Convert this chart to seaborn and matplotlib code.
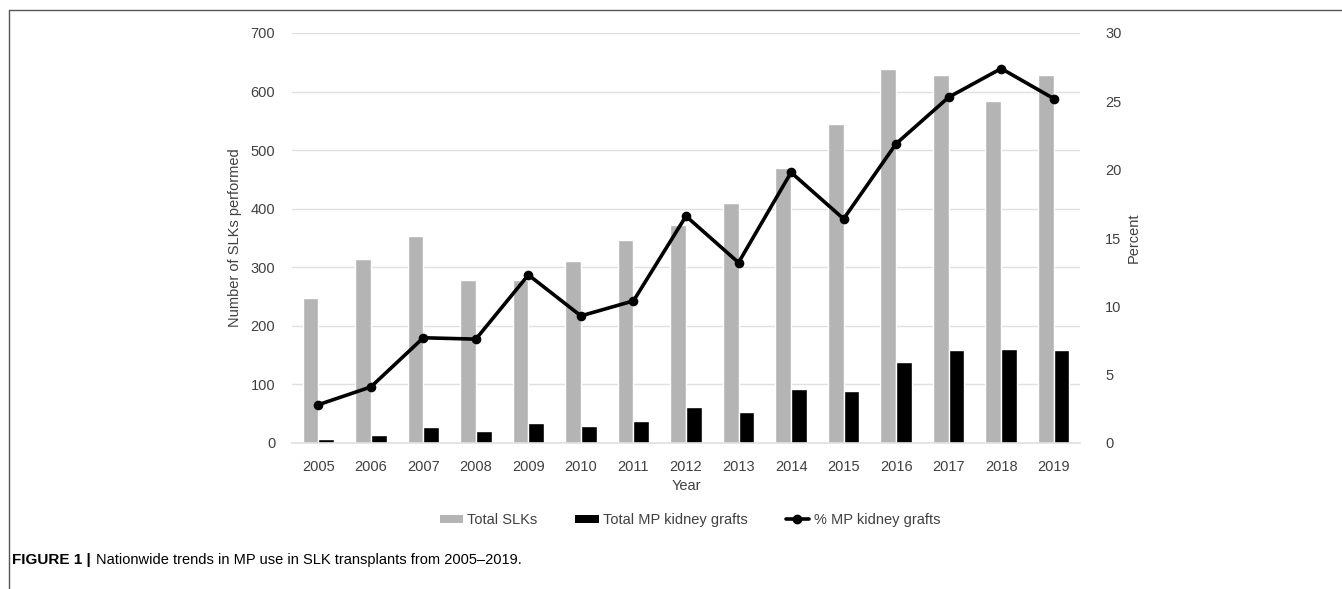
import numpy as np
import pandas as pd
import matplotlib
matplotlib.use('Agg')
import matplotlib.pyplot as plt
from matplotlib.lines import Line2D
from matplotlib.patches import Patch
import seaborn as sns

years = ['2005', '2006', '2007', '2008', '2009', '2010', '2011', '2012',
         '2013', '2014', '2015', '2016', '2017', '2018', '2019']
total_slks = [247, 315, 353, 278, 278, 311, 346, 373, 409, 469, 545, 638, 628, 584, 628]
total_mp = [7, 14, 27, 21, 34, 29, 37, 61, 53, 92, 89, 139, 159, 160, 158]
pct_mp = [2.8, 4.1, 7.7, 7.6, 12.3, 9.3, 10.4, 16.6, 13.2, 19.8, 16.4, 21.9, 25.3, 27.4, 25.2]

series_names = ['Total SLKs', 'Total MP kidney grafts', '% MP kidney grafts']

sns.set_style('white')
plt.rcParams['font.family'] = ['Liberation Sans', 'DejaVu Sans']

text_col = '#404040'
grid_col = '#e0e0e0'
gray_bar = '#b4b4b4'
fs = 10.5

df = pd.DataFrame({
    'Year': years * 2,
    'Count': total_slks + total_mp,
    'Series': [series_names[0]] * len(years) + [series_names[1]] * len(years),
})

fig = plt.figure(figsize=(13.42, 5.89), dpi=100)
ax = fig.add_axes([292 / 1342, 1 - 443 / 589, (1080 - 292) / 1342, 410 / 589])

sns.barplot(data=df, x='Year', y='Count', hue='Series', ax=ax,
            palette=[gray_bar, 'black'], width=0.6, saturation=1,
            legend=False, errorbar=None)
ax.set_ylim(0, 700)
ax.set_yticks(range(0, 701, 100))
ax.set_xlim(-0.5, len(years) - 0.5)
ax.yaxis.grid(True, color=grid_col, linewidth=1.0)
ax.set_axisbelow(True)
for s in ['top', 'right', 'left']:
    ax.spines[s].set_visible(False)
ax.spines['bottom'].set_color(grid_col)
ax.spines['bottom'].set_linewidth(1.2)
ax.tick_params(axis='y', length=0, labelsize=fs, colors=text_col, pad=12)
ax.tick_params(axis='x', length=0, labelsize=fs, colors=text_col, pad=12)
ax.set_xlabel('Year', fontsize=fs, color=text_col, labelpad=4)
ax.set_ylabel('Number of SLKs performed', fontsize=fs, color=text_col, labelpad=6)

ax2 = ax.twinx()
sns.pointplot(x=years, y=pct_mp, ax=ax2, color='black', markers='o',
              markersize=5, linewidth=2.6)
ax2.set_ylim(0, 30)
ax2.set_yticks(range(0, 31, 5))
ax2.set_xlim(-0.5, len(years) - 0.5)
for s in ['top', 'right', 'left', 'bottom']:
    ax2.spines[s].set_visible(False)
ax2.tick_params(axis='y', length=0, labelsize=fs, colors=text_col, pad=18)
ax2.set_ylabel('Percent', fontsize=fs, color=text_col, labelpad=4)

handles = [
    Patch(facecolor=gray_bar, edgecolor='none'),
    Patch(facecolor='black', edgecolor='none'),
    Line2D([], [], color='black', linewidth=2.6, marker='o', markersize=6),
]
fig.legend(handles, series_names, loc='center', bbox_to_anchor=(0.514, 1 - 520 / 589),
           ncol=3, frameon=False, fontsize=fs, labelcolor=text_col,
           handlelength=1.6, handleheight=0.5, columnspacing=2.6, handletextpad=0.3)

# figure frame (top and left edges)
fig.add_artist(Line2D([9 / 1342, 1], [1 - 10 / 589, 1 - 10 / 589],
                      transform=fig.transFigure, color='#555555', linewidth=1))
fig.add_artist(Line2D([9 / 1342, 9 / 1342], [0, 1 - 10 / 589],
                      transform=fig.transFigure, color='#555555', linewidth=1))

cap_y = 1 - 560 / 589
t1 = fig.text(12 / 1342, cap_y, 'FIGURE 1 |', fontsize=11, fontweight='bold',
              color='black', va='center', ha='left')
fig.canvas.draw()
bb = t1.get_window_extent()
fig.text((bb.x1 + 5) / 1342, cap_y,
         'Nationwide trends in MP use in SLK transplants from 2005\u20132019.',
         fontsize=10.5, color='black', va='center', ha='left')

fig.savefig('out.png', dpi=100)
